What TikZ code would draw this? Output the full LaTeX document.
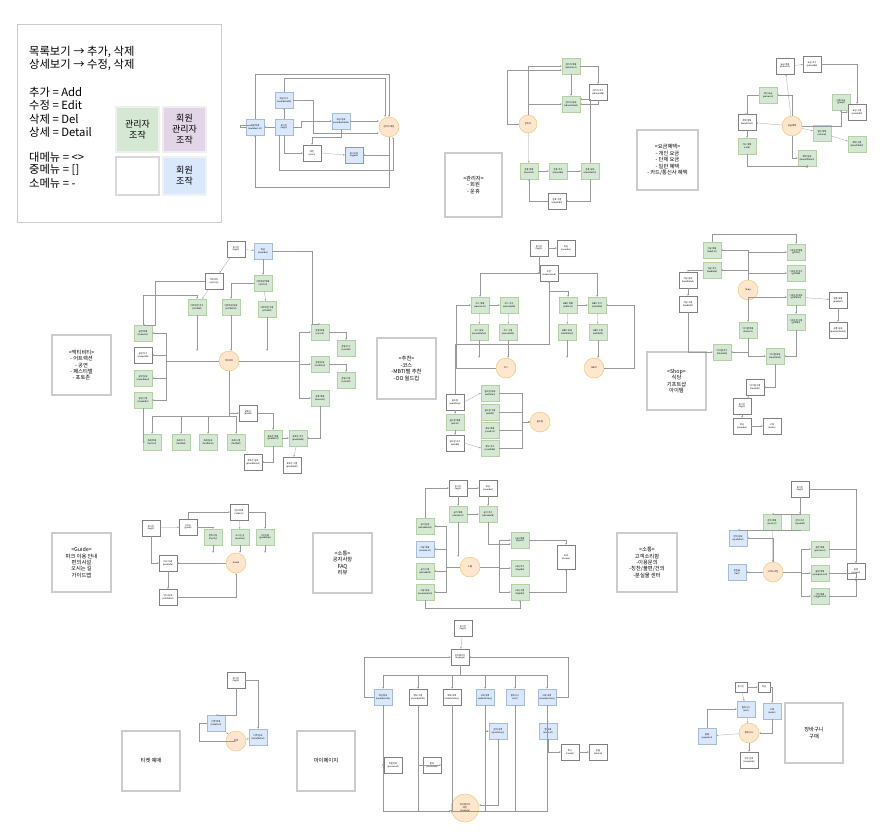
\documentclass[tikz,border=0pt]{standalone}
\usepackage{fontspec}
\setmainfont{Noto Sans CJK KR}
\usetikzlibrary{arrows.meta}
\definecolor{gF}{HTML}{D5E8D4}\definecolor{gS}{HTML}{82B366}
\definecolor{bF}{HTML}{DAE8FC}\definecolor{bS}{HTML}{6C8EBF}
\definecolor{pF}{HTML}{E1D5E7}\definecolor{pS}{HTML}{9673A6}
\definecolor{oF}{HTML}{FFE6CC}\definecolor{oS}{HTML}{D79B00}
\definecolor{bd}{HTML}{CCCCCC}
\begin{document}
\begin{tikzpicture}[x=1pt,y=-1pt,
 sb/.style={draw, line width=0.3pt, minimum width=18pt, minimum height=16pt, inner sep=0pt, align=center, font=\fontsize{2.2}{2.7}\selectfont},
 gb/.style={sb, fill=gF, draw=gS!60},
 bb/.style={sb, fill=bF, draw=bS!60},
 wb/.style={sb, fill=white, draw=black!50},
 oc/.style={circle, fill=oF, draw=oS!70, line width=0.3pt, minimum size=20pt, inner sep=0pt, align=center, font=\fontsize{2.2}{2.7}\selectfont},
 db/.style={draw=bd, line width=1.2pt, fill=white, align=center, font=\fontsize{5.3}{6.4}\selectfont},
 ed/.style={draw=black!40, line width=0.25pt, -{Stealth[length=1.8pt,width=1.4pt]}},
 lg/.style={anchor=west, font=\fontsize{11.3}{12}\selectfont, inner sep=0pt},
 lb/.style={draw, line width=1.2pt, minimum width=43pt, align=center, font=\fontsize{9}{11}\selectfont},
]
\useasboundingbox (0,0) rectangle (883,832);
\fill[white] (0,0) rectangle (883,832);

% ---------- legend ----------
\node[draw=bd, line width=1pt, minimum width=204pt, minimum height=197pt] (leg) at (119,123.5) {};
\node[lg] (l1) at (29,52) {목록보기 → 추가, 삭제};
\node[lg] (l2) at (29,65) {상세보기 → 수정, 삭제};
\node[lg] (l3) at (29,92) {추가 = Add};
\node[lg] (l4) at (29,105) {수정 = Edit};
\node[lg] (l5) at (29,119) {삭제 = Del};
\node[lg] (l6) at (29,132) {상세 = Detail};
\node[lg] (l7) at (29,157) {대메뉴 = <>};
\node[lg] (l8) at (29,170) {중메뉴 = []};
\node[lg] (l9) at (29,183) {소메뉴 = -};
\node[lb, fill=gF, draw=gF!80!black!20, minimum height=45pt] (lk1) at (137.5,129.5) {관리자\\조작};
\node[lb, fill=pF, draw=pF!80!black!20, minimum height=45pt] (lk2) at (184.5,129.5) {회원\\관리자\\조작};
\node[lb, fill=white, draw=black!15, minimum height=38pt] (lk3) at (137.5,176) {};
\node[lb, fill=bF, draw=bF!80!black!20, minimum height=38pt] (lk4) at (184.5,176) {회원\\조작};

% ---------- description boxes ----------
\node[db, minimum width=57pt, minimum height=64pt] (dA) at (473.5,185) {<관리자>\\- 회원\\- 운휴};
\node[db, minimum width=61pt, minimum height=60pt] (dB) at (667.5,160) {<요금혜택>\\- 개인 요금\\- 단체 요금\\- 일반 혜택\\- 카드/통신사 혜택};
\node[db, minimum width=59pt, minimum height=60pt] (dC) at (81.5,365) {<액티비티>\\- 어트랙션\\- 공연\\- 페스티벌\\- 포토존};
\node[db, minimum width=59pt, minimum height=61pt] (dD) at (406.5,368.5) {<추천>\\-코스\\-MBTI별 추천\\-OO 월드컵};
\node[db, minimum width=59pt, minimum height=58pt] (dE) at (676.5,381) {<Shop>\\식당\\기프트샵\\아이템};
\node[db, minimum width=59pt, minimum height=59pt] (dF) at (81.5,562.5) {<Guide>\\파크 이용 안내\\편의시설\\오시는 길\\가이드맵};
\node[db, minimum width=59pt, minimum height=60pt] (dG) at (342.5,563) {<소통>\\공지사항\\FAQ\\리뷰};
\node[db, minimum width=60pt, minimum height=59pt] (dH) at (647,562.5) {<소통>\\고객소리함\\-이용문의\\-칭찬/불편/건의\\-분실물 센터};
\node[db, minimum width=58pt, minimum height=60pt] (dI) at (151,761) {티켓 예매};
\node[db, minimum width=58pt, minimum height=60pt] (dJ) at (326,761) {마이페이지};
\node[db, minimum width=58pt, minimum height=60pt] (dK) at (814,733) {장바구니\\구매};

% ---------- cluster A (member admin) ----------
\node[bb] (a1) at (255,127) {회원 목록\\(memberList)};
\node[bb] (a2) at (284,100) {회원 추가\\(memberAdd)};
\node[bb] (a3) at (284,127) {로그인\\(login)};
\node[bb] (a4) at (341,121) {회원 상세\\(memberDetail)};
\node[wb] (a5) at (312,153) {메인\\(main)};
\node[bb, draw=black!40] (a6) at (354,155) {로그아웃\\(logout)};
\node[oc] (ao) at (389,127) {관리자 메인};
\draw[ed] (a3) -- (a1);
\draw[ed] (a3) -- (a2);
\draw[ed] (a4.east) -- (a4.east -| ao.west);
\draw[ed] (ao) |- (a6.east);
\draw[ed] (a1.north) -- ++(0,-45) -| (ao.north);
\draw[ed] (ao.south) -- ++(0,50) -| (a1.south);
\draw[ed] (a2.north) -- ++(0,-14) -| ([xshift=-4pt]ao.north);
\draw[ed] (a3.south) |- (a5.west);
\draw[ed] (a4.south) -- ++(0,8) -| (a5.north);
\draw[ed] (a5.east) -- (a6.west);
\draw[ed] (a3.east) -- ++(8,0) |- (a4.west);
\draw[ed] (a2.east) -- ++(20,0) |- ([yshift=-6pt]ao.west);
\draw[ed] ([xshift=-5pt]a3.south) |- ([xshift=4pt]ao.south |- 170,170) -- ([xshift=4pt]ao.south);
\draw[ed] (a1.west) -- ++(-6,0) |- ([yshift=-6pt]a1.north);

% ---------- cluster B (admin / close) ----------
\node[gb] (b1) at (571,66) {관리자 목록\\(adminList)};
\node[gb] (b2) at (571,104) {관리자 상세\\(adminDetail)};
\node[wb] (b3) at (598,92) {관리자 추가\\(adminAdd)};
\node[oc, minimum size=18pt] (bo) at (528,124) {관리자};
\node[gb] (b4) at (529,171) {운휴 목록\\(closeList)};
\node[gb] (b5) at (558,171) {운휴 추가\\(closeAdd)};
\node[gb] (b6) at (590,171) {운휴 상세\\(closeDetail)};
\node[wb] (b7) at (557,201) {운휴 수정\\(closeEdit)};
\draw[ed] (bo) |- (b1.west);
\draw[ed] (bo) |- (b2.west);
\draw[ed] (b1) -- (b2);
\draw[ed] (b1.east) -| (b3.north);
\draw[ed] (b3.south) |- (b2.east);
\draw[ed] (bo) -- (b4);
\draw[ed] (b4) -- (b5);
\draw[ed] (b5) -- (b6);
\draw[ed] (b6.south) |- (b7.east);
\draw[ed] (b7.west) -| (b4.south);
\draw[ed] (bo.west) -- ++(-12,0) |- ([yshift=-4pt]b1.west);
\draw[ed] (b6.north) |- ([yshift=5pt]b2.east);

% ---------- cluster C (price) ----------
\node[wb] (c1) at (785,66) {요금 목록\\(priceList)};
\node[wb] (c2) at (812,64) {요금 추가\\(priceAdd)};
\node[gb] (c3) at (768,95) {개인 요금\\(personal)};
\node[gb] (c4) at (841,102) {단체 요금\\(group)};
\node[wb] (c5) at (747,122) {혜택 목록\\(benefitList)};
\node[oc] (co) at (792,126) {요금혜택};
\node[gb] (c6) at (822,133) {일반 혜택\\(normal)};
\node[gb] (c7) at (747,146) {카드 혜택\\(card)};
\node[gb] (c8) at (807,158) {혜택 상세\\(benefitDetail)};
\node[wb] (c9) at (857,112) {요금 수정\\(priceEdit)};
\node[gb] (c10) at (857,144) {혜택 수정\\(benefitEdit)};
\draw[ed] (co) |- (c3.east);
\draw[ed] (co) -- (c1);
\draw[ed] (c1) -- (c2);
\draw[ed] (co) -| (c4.south);
\draw[ed] (c4) |- (c9);
\draw[ed] (co) -- (c6);
\draw[ed] (c6) -- (c10);
\draw[ed] (co) -- (c5);
\draw[ed] (c5) -- (c7);
\draw[ed] (co) |- (c8.west);
\draw[ed] (c2.east) -| (c9.north);
\draw[ed] (c3.west) -- ++(-12,0) |- (c5.north);
\draw[ed] (c7.south) -- ++(0,12) -| (c8.south);

% ---------- cluster D (activity) ----------
\node[wb] (d0) at (236,249) {로그인\\(login)};
\node[bb] (d1) at (263,251) {회원\\(member)};
\node[wb] (d2) at (214,281) {액티비티\\(activity)};
\node[gb] (d3) at (263,283) {어트랙션 목록\\(attrList)};
\node[gb] (d4) at (197,307) {어트랙션 추가\\(attrAdd)};
\node[gb] (d5) at (231,307) {어트랙션 상세\\(attrDetail)};
\node[gb] (d6) at (267,309) {어트랙션 수정\\(attrEdit)};
\node[oc] (do) at (229,361) {액티비티};
\node[gb] (d7) at (143,333) {공연 목록\\(showList)};
\node[wb] (d8) at (143,355) {공연 추가\\(showAdd)};
\node[gb] (d9) at (143,378) {공연 상세\\(showDetail)};
\node[gb] (d10) at (143,400) {공연 수정\\(showEdit)};
\node[gb] (d11) at (152,442) {축제 목록\\(festList)};
\node[gb] (d12) at (181,442) {축제 추가\\(festAdd)};
\node[gb] (d13) at (208,442) {축제 상세\\(festDetail)};
\node[gb] (d14) at (236,442) {축제 수정\\(festEdit)};
\node[wb] (d15) at (248,413) {포토존\\(photo)};
\node[gb] (d16) at (273,438) {포토존 목록\\(photoList)};
\node[gb] (d17) at (298,438) {포토존 추가\\(photoAdd)};
\node[wb] (d18) at (253,462) {포토존 상세\\(photoDetail)};
\node[wb] (d19) at (292,465) {포토존 수정\\(photoEdit)};
\node[gb] (d20) at (320,332) {운영 목록\\(runList)};
\node[gb] (d21) at (346,348) {운영 추가\\(runAdd)};
\node[gb] (d22) at (320,364) {운영 상세\\(runDetail)};
\node[gb] (d23) at (346,380) {운영 수정\\(runEdit)};
\node[gb] (d24) at (320,398) {운휴 목록\\(closeList)};
\draw[ed] (d0) -- (d1);
\draw[ed] (d0) -- (d2);
\draw[ed] (d1) -- (d3);
\draw[ed] (d2) -- (d4);
\draw[ed] (d3) -- (d6);
\draw[ed] (d3.west) -| (d5.north);
\foreach \n in {d4,d5,d6} \draw[ed] (\n.south) -- (\n.south |- do.north);
\foreach \n in {d7,d8,d9,d10} \draw[ed] (do) -| ([xshift=14pt]\n.east) -- (\n.east);
\foreach \n in {d11,d12,d13,d14} \draw[ed] (do.south) -- ++(0,45) -| (\n.north);
\foreach \n in {d20,d22,d24} \draw[ed] (do) -| ([xshift=-12pt]\n.west) -- (\n.west);
\draw[ed] (d20) -| (d21);
\draw[ed] (d22) -| (d23);
\draw[ed] (do) |- (d15.west);
\draw[ed] (d15) -| (d16);
\draw[ed] (d16) -- (d17);
\draw[ed] (d16) |- (d18.east);
\draw[ed] (d17) -- (d19);
\draw[ed] (d7.north) -- ++(0,-30) -| (d4.north);
\draw[ed] (d10.south) |- (d11.west);
\draw[ed] (d1.east) -- ++(40,0) |- (d20.north);
\draw[ed] (d24.south) |- (d17.east);
\draw[ed] (d2.west) -- ++(-50,0) |- (d7.north);

% ---------- cluster E (recommend) ----------
\node[wb] (e0) at (539,248) {로그인\\(login)};
\node[wb] (e1) at (566,248) {회원\\(member)};
\node[wb] (e2) at (549,273) {추천\\(recommend)};
\node[gb] (e3) at (480,305) {코스 목록\\(courseList)};
\node[gb] (e4) at (509,305) {코스 추가\\(courseAdd)};
\node[gb] (e5) at (568,305) {MBTI 목록\\(mbtiList)};
\node[gb] (e6) at (597,305) {MBTI 추가\\(mbtiAdd)};
\node[gb] (e7) at (479,332) {코스 상세\\(courseDetail)};
\node[gb] (e8) at (508,332) {코스 수정\\(courseEdit)};
\node[gb] (e9) at (567,332) {MBTI 상세\\(mbtiDetail)};
\node[gb] (e10) at (598,332) {MBTI 수정\\(mbtiEdit)};
\node[oc] (eo1) at (506,368) {코스};
\node[oc] (eo2) at (594,368) {MBTI};
\node[wb] (e11) at (455,402) {월드컵\\(worldcup)};
\node[gb] (e12) at (455,422) {월드컵 목록\\(wcList)};
\node[wb] (e13) at (455,443) {월드컵 추가\\(wcAdd)};
\node[gb] (e14) at (490,393) {월드컵 상세\\(wcDetail)};
\node[gb] (e15) at (490,412) {월드컵 수정\\(wcEdit)};
\node[gb] (e16) at (490,430) {후보 목록\\(candList)};
\node[gb] (e17) at (490,448) {후보 추가\\(candAdd)};
\node[oc] (eo3) at (540,422) {월드컵};
\draw[ed] (e0) -- (e1);
\draw[ed] (e0) |- (e2);
\draw[ed] (e2.west) -| (e3.north);
\draw[ed] (e2.east) -| (e6.north);
\draw[ed] (e3) -- (e4);
\draw[ed] (e5) -- (e6);
\draw[ed] (e3) -- (e7);
\draw[ed] (e4) -- (e8);
\draw[ed] (e5) -- (e9);
\draw[ed] (e6) -- (e10);
\foreach \n in {e7,e8} \draw[ed] (\n.south) -- (\n.south |- eo1.north);
\foreach \n in {e9,e10} \draw[ed] (\n.south) -- (\n.south |- eo2.north);
\draw[ed] (eo1.west) -- ++(-40,0) |- (e3.west);
\draw[ed] (eo2.east) -- ++(30,0) |- (e6.east);
\draw[ed] (e2.south) -- ++(0,10) -| (e5.north);
\draw[ed] (e11) -- (e12);
\draw[ed] (e12) -- (e13);
\foreach \n in {e14,e15,e16,e17} \draw[ed] (\n.east) -| ([xshift=-8pt]eo3.west) -- (eo3.west);
\draw[ed] (e11.east) -- (e14.west);
\draw[ed] (e13.east) -- (e17.west);
\draw[ed] (e11.north) -- ++(0,-50) -| (e2.south);

% ---------- cluster F (shop) ----------
\node[gb] (f1) at (712,250) {식당 목록\\(foodList)};
\node[gb] (f2) at (712,270) {식당 추가\\(foodAdd)};
\node[wb] (f3) at (688,280) {식당 상세\\(foodDetail)};
\node[wb] (f4) at (688,304) {식당 수정\\(foodEdit)};
\node[oc] (fo) at (748,290) {Shop};
\node[gb] (f5) at (796,252) {기프트샵 목록\\(giftList)};
\node[gb] (f6) at (796,273) {기프트샵 추가\\(giftAdd)};
\node[gb] (f7) at (796,297) {기프트샵 상세\\(giftDetail)};
\node[gb] (f8) at (796,322) {기프트샵 수정\\(giftEdit)};
\node[gb] (f9) at (748,330) {아이템 목록\\(itemList)};
\node[gb] (f10) at (722,352) {아이템 추가\\(itemAdd)};
\node[gb] (f11) at (775,356) {아이템 상세\\(itemDetail)};
\node[wb] (f12) at (755,387) {아이템 수정\\(itemEdit)};
\node[wb] (f13) at (742,406) {로그인\\(login)};
\node[wb] (f14) at (742,426) {회원\\(member)};
\node[wb] (f15) at (772,426) {구매\\(order)};
\node[wb] (f16) at (838,300) {상품 목록\\(product)};
\node[wb] (f17) at (838,330) {상품 상세\\(productDetail)};
\draw[ed] (fo) |- (f1.east);
\draw[ed] (fo) |- (f2.east);
\draw[ed] (f2.west) -| (f3.north);
\draw[ed] (f3) -- (f4);
\draw[ed] (fo) |- (f5.west);
\draw[ed] (fo) |- (f6.west);
\draw[ed] (fo) |- (f7.west);
\draw[ed] (f7) -- (f8);
\draw[ed] (fo) -- (f9);
\draw[ed] (f9.south) |- (f10.east);
\draw[ed] (f9.south) |- (f11.west);
\draw[ed] (f11) |- (f12.east);
\draw[ed] (f12) -- (f13);
\draw[ed] (f13) -- (f14);
\draw[ed] (f14) -- (f15);
\draw[ed] (f7) -- (f16);
\draw[ed] (f16) -- (f17);
\draw[ed] (f1.north) -- ++(0,-8) -| (f5.north);
\draw[ed] (f4.south) |- (f10.west);
\draw[ed] (f8.south) |- (f11.east);

% ---------- cluster G (guide) ----------
\node[wb] (g0) at (151,528) {로그인\\(login)};
\node[wb] (g1) at (188,527) {가이드\\(guide)};
\node[wb] (g5) at (239,512) {안내 목록\\(infoList)};
\node[gb] (g2) at (213,537) {편의시설\\(facility)};
\node[gb] (g3) at (240,537) {오시는 길\\(location)};
\node[gb] (g4) at (265,537) {가이드맵\\(guideMap)};
\node[wb] (g6) at (168,563) {파크 이용\\(parkInfo)};
\node[oc] (go) at (236,563) {Guide};
\node[wb] (g7) at (168,597) {안내 상세\\(infoDetail)};
\draw[ed] (g0) -- (g1);
\draw[ed] (g1) -| (g2);
\draw[ed] (g1.north) |- (g5.west);
\draw[ed] (g5) -- (g3);
\draw[ed] (g5) -| (g4);
\foreach \n in {g2,g3,g4} \draw[ed] (\n.south) -- (\n.south |- go.north);
\draw[ed] (go) -- (g6);
\draw[ed] (g6) -- (g7);
\draw[ed] (g0) |- (g6.west);
\draw[ed] (g7.east) -| (go.south);

% ---------- cluster H (communication 1) ----------
\node[wb] (h0) at (458,488) {로그인\\(login)};
\node[wb] (h1) at (488,488) {회원\\(member)};
\node[gb] (h2) at (458,514) {공지 목록\\(noticeList)};
\node[gb] (h3) at (488,514) {공지 추가\\(noticeAdd)};
\node[gb] (h4) at (425,526) {공지 상세\\(noticeDetail)};
\node[bb] (h5) at (425,549) {리뷰 목록\\(reviewList)};
\node[gb] (h6) at (425,571) {공지 수정\\(noticeEdit)};
\node[gb] (h7) at (425,592) {리뷰 상세\\(reviewDetail)};
\node[oc] (ho) at (470,567) {소통};
\node[gb] (h8) at (520,540) {FAQ 목록\\(faqList)};
\node[gb] (h9) at (520,568) {FAQ 추가\\(faqAdd)};
\node[gb] (h10) at (520,592) {FAQ 수정\\(faqEdit)};
\node[wb, minimum height=24pt] (h11) at (566,557) {리뷰\\(review)};
\draw[ed] (h0) -- (h1);
\draw[ed] (h0) -- (h2);
\draw[ed] (h1) -- (h3);
\draw[ed] (h2) -- (h3);
\foreach \n in {h4,h5,h6,h7} \draw[ed] (ho) -| ([xshift=12pt]\n.east) -- (\n.east);
\foreach \n in {h8,h9,h10} \draw[ed] (ho) -| ([xshift=-12pt]\n.west) -- (\n.west);
\draw[ed] (h2.south) -- (h2.south |- ho.north);
\draw[ed] (h3.south) |- ([yshift=-4pt]h8.west);
\draw[ed] (h8) -| (h11);
\draw[ed] (h10) -| (h11);
\draw[ed] (h4.north) |- (h0.west);
\draw[ed] (h7.south) -- ++(0,8) -| (h10.south);

% ---------- cluster I (communication 2) ----------
\node[wb] (i0) at (800,489) {로그인\\(login)};
\node[gb] (i1) at (772,522) {문의 목록\\(qnaList)};
\node[gb] (i3) at (800,522) {문의 추가\\(qnaAdd)};
\node[bb] (i2) at (738,538) {문의 상세\\(qnaDetail)};
\node[oc] (io) at (773,572) {고객소리함};
\node[bb] (i4) at (737,572) {분실물\\(lost)};
\node[gb] (i5) at (820,549) {칭찬 목록\\(praiseList)};
\node[gb] (i6) at (820,573) {불편 목록\\(complainList)};
\node[gb] (i7) at (820,596) {건의 목록\\(suggestList)};
\node[wb] (i8) at (856,571) {답변\\(answer)};
\draw[ed] (i0) |- (i1.north);
\draw[ed] (i0) -- (i3);
\draw[ed] (i1) -- (io);
\draw[ed] (i3) |- (i2.north);
\draw[ed] (io) |- (i2.east);
\draw[ed] (io) -- (i4);
\foreach \n in {i5,i6,i7} \draw[ed] (io) -| ([xshift=-10pt]\n.west) -- (\n.west);
\foreach \n in {i5,i6,i7} \draw[ed] (\n.east) -| (i8);
\draw[ed] (i0.east) -| (i8.north);

% ---------- cluster J (ticket) ----------
\node[wb] (j0) at (236,680) {로그인\\(login)};
\node[bb] (j1) at (216,723) {티켓 목록\\(ticketList)};
\node[bb] (j2) at (258,737) {티켓 상세\\(ticketDetail)};
\node[oc] (jo) at (236,741) {티켓};
\draw[ed] (j0) |- (j1.north);
\draw[ed] (j0) -| (j2.north);
\draw[ed] (j1) -- (jo);
\draw[ed] (jo) -- (j2);
\draw[ed] (j1.west) -- ++(-8,0) |- ([yshift=10pt]jo.south);

% ---------- cluster K (mypage) ----------
\node[wb] (k0) at (463,628) {로그인\\(login)};
\node[wb] (k1) at (460,657) {마이페이지\\(mypage)};
\node[bb] (k2) at (383,697) {회원 정보\\(memberInfo)};
\node[wb] (k3) at (418,697) {정보 수정\\(memberEdit)};
\node[wb] (k4) at (452,697) {예매 내역\\(ticketHistory)};
\node[bb] (k5) at (485,697) {구매 내역\\(orderHistory)};
\node[bb] (k6) at (515,697) {장바구니\\(cart)};
\node[bb] (k7) at (547,697) {리뷰 내역\\(reviewHistory)};
\node[bb] (k8) at (498,731) {문의 내역\\(qnaHistory)};
\node[bb] (k9) at (548,731) {찜 목록\\(wishList)};
\node[wb] (k10) at (393,765) {비밀번호\\(password)};
\node[wb] (k11) at (432,765) {탈퇴\\(withdraw)};
\node[wb] (k12) at (570,752) {취소\\(cancel)};
\node[wb] (k13) at (598,752) {환불\\(refund)};
\node[oc, minimum size=28pt] (ko) at (465,808) {마이페이지\\메인\\(mypage)};
\draw[ed] (k0) -- (k1);
\foreach \n in {k2,k3,k4,k5,k6,k7} \draw[ed] (k1.south) -- ++(0,10) -| (\n.north);
\foreach \n in {k2,k3,k4,k5,k6,k7} \draw[ed] (\n.south) -- ++(0,0) |- ([yshift=-3pt]ko.west);
\draw[ed] (k5) |- (k8.west);
\draw[ed] (k7) -- (k9);
\draw[ed] (k2) |- (k10.west);
\draw[ed] (k3) |- (k11.east);
\draw[ed] (k9) |- (k12.west);
\draw[ed] (k12) -- (k13);
\draw[ed] (k8.south) |- ([yshift=3pt]ko.east);
\draw[ed] (k2.west) -- ++(-10,0) |- (k1.west);
\draw[ed] (k7.east) -- ++(12,0) |- (k1.east);

% ---------- cluster L (cart) ----------
\node[wb, minimum width=12pt, minimum height=10pt] (l0) at (741,687) {로그인};
\node[wb, minimum width=12pt, minimum height=10pt] (l1n) at (764,687) {회원};
\node[bb] (l2) at (746,709) {장바구니\\(cart)};
\node[bb] (l3) at (772,711) {구매\\(order)};
\node[bb] (l4) at (707,736) {결제\\(payment)};
\node[oc] (lo) at (749,733) {장바구니};
\node[wb] (l5) at (749,760) {주문 완료\\(complete)};
\draw[ed] (l0) -- (l1n);
\draw[ed] (l0) -- (l2);
\draw[ed] (l1n) -| (l3);
\draw[ed] (l2) -- (lo);
\draw[ed] (l3) |- (lo);
\draw[ed] (lo) -- (l4);
\draw[ed] (lo) -- (l5);
\draw[ed] (l4.north) |- (l2.west);
\end{tikzpicture}
\end{document}
